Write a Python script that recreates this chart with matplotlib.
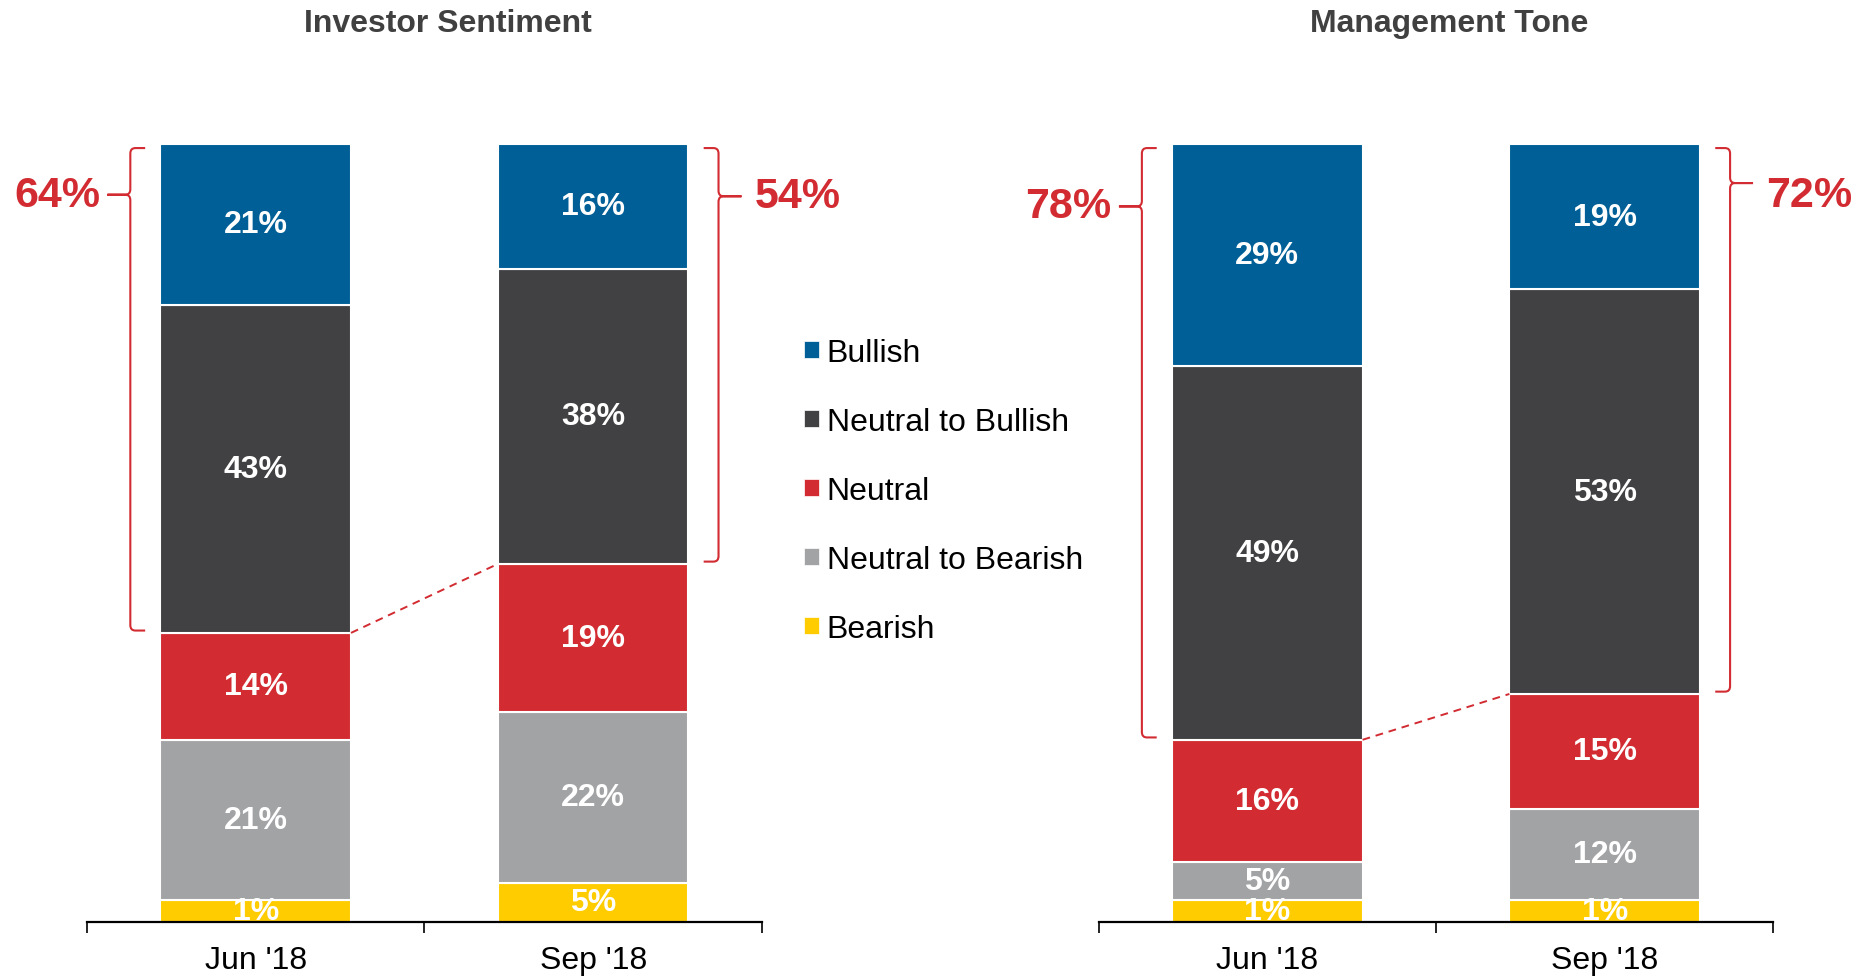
import numpy as np
import matplotlib
matplotlib.use("Agg")
import matplotlib.pyplot as plt
from matplotlib.patches import Patch, PathPatch
from matplotlib.path import Path

plt.rcParams["font.family"] = ["Liberation Sans", "DejaVu Sans"]

# data -------------------------------------------------------------
categories = ["Bullish", "Neutral to Bullish", "Neutral", "Neutral to Bearish", "Bearish"]
colors = ["#005F96", "#414042", "#D22B31", "#A2A3A5", "#FFCC00"]
periods = ["Jun '18", "Sep '18"]

investor_jun = [21, 43, 14, 21, 1]
investor_sep = [16, 38, 19, 22, 5]
mgmt_jun = [29, 49, 16, 5, 1]
mgmt_sep = [19, 53, 15, 12, 1]

investor_positive = [64, 54]   # bullish + neutral to bullish
mgmt_positive = [78, 72]

RED = "#D22B31"
MIN_SHOW = 2.8   # tiny slices are drawn a bit taller so the label fits
BAR_W = 0.565


def shown(vals):
    v = np.maximum(np.array(vals, float), MIN_SHOW)
    return v / v.sum() * 100


def brace(ax, x_line, x_hook, x_tip, y_bot, y_top, y_mid):
    s = 1 if x_hook > x_line else -1
    rx, ry = 0.015, 0.7
    verts = [(x_hook, y_top), (x_line + s * rx, y_top),
             (x_line, y_top), (x_line, y_top - ry),
             (x_line, y_mid + ry),
             (x_line, y_mid), (x_line - s * rx, y_mid),
             (x_tip, y_mid), (x_line - s * rx, y_mid),
             (x_line, y_mid), (x_line, y_mid - ry),
             (x_line, y_bot + ry),
             (x_line, y_bot), (x_line + s * rx, y_bot),
             (x_hook, y_bot)]
    codes = [Path.MOVETO, Path.LINETO,
             Path.CURVE3, Path.CURVE3,
             Path.LINETO,
             Path.CURVE3, Path.CURVE3,
             Path.LINETO, Path.LINETO,
             Path.CURVE3, Path.CURVE3,
             Path.LINETO,
             Path.CURVE3, Path.CURVE3,
             Path.LINETO]
    ax.add_patch(PathPatch(Path(verts, codes), fill=False, edgecolor=RED,
                           lw=1.5, clip_on=False))


def panel(ax, jun, sep, positive, ptr_y, lab_y):
    stacks = [shown(jun), shown(sep)]
    raw = [jun, sep]
    for i, (h, r) in enumerate(zip(stacks, raw)):
        bottom = 0
        # stack bottom-up: bearish first
        for k in range(len(categories) - 1, -1, -1):
            ax.bar(i, h[k], BAR_W, bottom=bottom, color=colors[k],
                   edgecolor="white", linewidth=1.5)
            ax.text(i, bottom + h[k] / 2, f"{r[k]}%", ha="center", va="center",
                    color="white", fontsize=23, fontweight="bold")
            bottom += h[k]

    neutral_top = [s[2:].sum() for s in stacks]
    ax.plot([BAR_W / 2, 1 - BAR_W / 2], neutral_top, color=RED, lw=1.4,
            ls=(0, (4, 3)))

    # left brace on first bar, right brace on second bar
    left = 0 - BAR_W / 2
    xl = left - 0.089
    brace(ax, xl, left - 0.045, xl - 0.068, neutral_top[0] + 0.3, 99.5, ptr_y[0])
    ax.text(xl - 0.068 - 0.022, lab_y[0], f"{positive[0]}%", ha="right",
            va="center", color=RED, fontsize=31, fontweight="bold")
    right = 1 + BAR_W / 2
    xr = right + 0.089
    brace(ax, xr, right + 0.045, xr + 0.068, neutral_top[1] + 0.3, 99.5, ptr_y[1])
    ax.text(xr + 0.068 + 0.04, lab_y[1], f"{positive[1]}%", ha="left",
            va="center", color=RED, fontsize=31, fontweight="bold")

    ax.set_xlim(-0.5, 1.5)
    ax.set_ylim(0, 100)
    for sp in ["left", "right", "top"]:
        ax.spines[sp].set_visible(False)
    ax.spines["bottom"].set_linewidth(1.6)
    ax.set_yticks([])
    ax.set_xticks([-0.5, 0.5, 1.5])
    ax.set_xticklabels([])
    ax.tick_params(axis="x", which="major", length=8, width=1.2)
    ax.set_xticks([0, 1], minor=True)
    ax.set_xticklabels(periods, minor=True, fontsize=23)
    ax.tick_params(axis="x", which="minor", length=0, pad=17)


fig = plt.figure(figsize=(18.66, 9.79), dpi=100)
ax1 = fig.add_axes([0.0466, 0.0577, 0.3617, 0.794])
ax2 = fig.add_axes([0.5887, 0.0577, 0.3617, 0.794])

panel(ax1, investor_jun, investor_sep, investor_positive, [93.5, 93.3], [93.5, 93.3])
panel(ax2, mgmt_jun, mgmt_sep, mgmt_positive, [92.0, 95.0], [92.0, 93.5])

fig.text(0.2398, 0.975, "Investor Sentiment", ha="center", va="center",
         fontsize=23, fontweight="bold", color="#404040")
fig.text(0.7768, 0.975, "Management Tone", ha="center", va="center",
         fontsize=23, fontweight="bold", color="#404040")

handles = [Patch(facecolor=c, edgecolor="white", linewidth=0.5) for c in colors]
fig.legend(handles, categories, loc="upper left", bbox_to_anchor=(0.4225, 0.67),
           frameon=False, fontsize=23, handlelength=0.45, handleheight=0.45,
           handletextpad=0.25, labelspacing=1.22, borderpad=0)

fig.savefig("out.png", dpi=100)
